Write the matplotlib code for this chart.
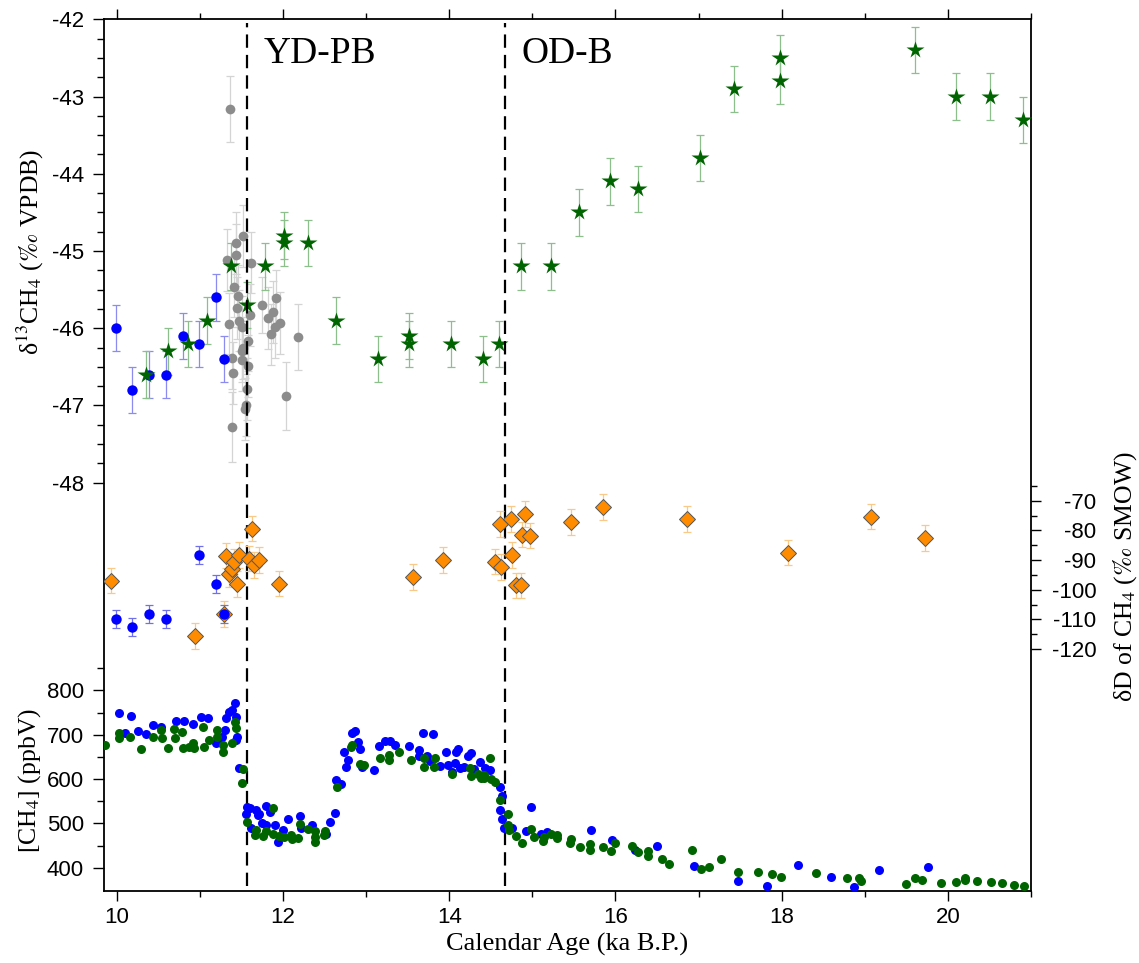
import matplotlib
matplotlib.use('Agg')
import matplotlib.pyplot as plt
import numpy as np

plt.rcParams['axes.unicode_minus'] = False
plt.rcParams['mathtext.fontset'] = 'stix'
plt.rcParams['font.family'] = ['Liberation Sans', 'DejaVu Sans']

# ---------------- data ----------------
# d13C-CH4 (permil VPDB), blue series
d13c_blue_age = [9.99, 10.18, 10.39, 10.59, 10.79, 10.99, 11.19, 11.29]
d13c_blue = [-46.0, -46.8, -46.6, -46.6, -46.1, -46.2, -45.6, -46.4]
d13c_blue_err = [0.3, 0.3, 0.3, 0.3, 0.3, 0.3, 0.3, 0.3]

# d13C-CH4, green stars
d13c_green_age = [10.35, 10.61, 10.86, 11.09, 11.37, 11.56, 11.78, 12.01, 12.01, 12.30,
                  12.64, 13.14, 13.52, 13.52, 14.02, 14.41, 14.60, 14.86, 15.22, 15.56,
                  15.93, 16.27, 17.02, 17.43, 17.98, 17.98, 19.61, 20.10, 20.51, 20.90]
d13c_green = [-46.6, -46.3, -46.2, -45.9, -45.2, -45.7, -45.2, -44.8, -44.9, -44.9,
              -45.9, -46.4, -46.1, -46.2, -46.2, -46.4, -46.2, -45.2, -45.2, -44.5,
              -44.1, -44.2, -43.8, -42.9, -42.5, -42.8, -42.4, -43.0, -43.0, -43.3]
d13c_green_err = [0.3] * 30

# d13C-CH4, gray series
d13c_gray_age = [11.36, 11.52, 11.43, 11.43, 11.33, 11.61, 11.41, 11.46, 11.45, 11.60,
                 11.47, 11.35, 11.50, 11.58, 11.52, 11.51, 11.38, 11.51, 11.58, 11.40,
                 11.56, 11.55, 11.54, 11.39, 11.75, 11.92, 11.82, 11.88, 11.85, 11.90,
                 11.96, 12.18, 12.03]
d13c_gray = [-43.16, -44.81, -44.90, -45.05, -45.12, -45.15, -45.46, -45.58, -45.74, -45.83,
             -45.90, -45.94, -45.98, -46.16, -46.26, -46.30, -46.39, -46.41, -46.49, -46.58,
             -46.79, -46.99, -47.05, -47.28, -45.70, -45.61, -45.87, -45.79, -46.08, -45.98,
             -45.93, -46.11, -46.88]
d13c_gray_err = [0.43, 0.4, 0.4, 0.4, 0.4, 0.4, 0.4, 0.4, 0.4, 0.4,
                 0.4, 0.4, 0.4, 0.4, 0.4, 0.4, 0.4, 0.4, 0.4, 0.4,
                 0.4, 0.4, 0.4, 0.45, 0.36, 0.36, 0.4, 0.4, 0.4, 0.4,
                 0.4, 0.43, 0.44]

# dD-CH4 (permil SMOW), orange diamonds
dD_orange_age = [9.93, 10.94, 11.29, 11.31, 11.35, 11.39, 11.41, 11.47, 11.45, 11.59,
                 11.63, 11.65, 11.71, 11.95, 13.56, 13.92, 14.55, 14.62, 14.61, 14.74,
                 14.76, 14.87, 14.91, 14.97, 14.80, 14.86, 15.46, 15.85, 16.86, 18.08,
                 19.08, 19.72]
dD_orange = [-96.9, -115.6, -108.2, -88.5, -94.8, -93.1, -90.5, -88.2, -98.1, -89.5,
             -79.4, -91.7, -90.0, -97.9, -95.7, -89.9, -90.5, -92.3, -77.9, -76.1,
             -88.2, -81.4, -74.4, -81.7, -98.5, -98.5, -77.1, -72.1, -76.1, -87.5,
             -75.3, -82.6]
dD_orange_err = [4.3] * 32

# dD-CH4, blue dots
dD_blue_age = [9.99, 10.18, 10.39, 10.59, 10.99, 11.19, 11.29]
dD_blue = [-109.9, -112.7, -108.2, -109.9, -88.4, -98.1, -108.2]
dD_blue_err = [3.0, 3.0, 3.0, 3.0, 3.0, 3.0, 3.0]

# [CH4] (ppbV), blue
ch4_blue_age = [10.02, 10.10, 10.17, 10.26, 10.35, 10.44, 10.53, 10.71, 10.81, 10.92,
                11.01, 11.10, 11.19, 11.23, 11.27, 11.30, 11.31, 11.35, 11.39, 11.42,
                11.43, 11.43, 11.45, 11.47, 11.57, 11.60, 11.55, 11.61, 11.68, 11.70,
                11.71, 11.79, 11.75, 11.79, 11.84, 11.90, 11.94, 12.00, 12.06, 12.20,
                12.21, 12.35, 12.52, 12.57, 12.63, 12.64, 12.70, 12.73, 12.78, 12.76,
                12.83, 12.86, 12.90, 12.92, 12.95, 13.09, 13.16, 13.23, 13.29, 13.35,
                13.51, 13.63, 13.63, 13.68, 13.73, 13.77, 13.81, 13.89, 13.96, 13.99,
                14.03, 14.07, 14.08, 14.10, 14.13, 14.18, 14.22, 14.26, 14.30, 14.37,
                14.43, 14.49, 14.61, 14.63, 14.61, 14.64, 14.66, 14.76, 14.92, 14.98,
                15.10, 15.18, 15.70, 15.96, 16.23, 16.50, 16.95, 17.48, 17.82, 18.20,
                18.59, 18.87, 19.17, 19.76]
ch4_blue = [750, 704, 743, 708, 702, 721, 718, 732, 732, 725,
            741, 738, 682, 685, 694, 710, 738, 751, 756, 771,
            739, 689, 694, 625, 537, 534, 521, 490, 531, 520,
            522, 540, 501, 496, 525, 496, 459, 486, 510, 516,
            489, 497, 477, 504, 524, 597, 589, 662, 644, 627,
            704, 708, 683, 669, 628, 621, 674, 685, 685, 676,
            674, 666, 651, 705, 651, 640, 702, 629, 662, 632,
            616, 637, 662, 667, 624, 628, 651, 658, 623, 639,
            625, 621, 582, 561, 531, 509, 490, 489, 482, 538,
            477, 481, 486, 462, 441, 450, 404, 370, 360, 406,
            380, 356, 396, 403]

# [CH4] (ppbV), green
ch4_green_age = [9.86, 10.02, 10.02, 10.16, 10.29, 10.44, 10.54, 10.53, 10.62, 10.69,
                 10.70, 10.78, 10.79, 10.87, 10.92, 10.93, 11.04, 11.05, 11.11, 11.20,
                 11.20, 11.28, 11.28, 11.38, 11.42, 11.43, 11.52, 11.51, 11.57, 11.67,
                 11.66, 11.76, 11.79, 11.88, 11.88, 11.95, 12.01, 12.10, 12.11, 12.18,
                 12.20, 12.30, 12.38, 12.38, 12.39, 12.49, 12.50, 12.65, 12.82, 12.83,
                 12.92, 12.97, 13.17, 13.27, 13.27, 13.40, 13.54, 13.70, 13.70, 13.83,
                 13.82, 14.03, 14.25, 14.26, 14.35, 14.38, 14.42, 14.42, 14.49, 14.50,
                 14.55, 14.61, 14.71, 14.71, 14.72, 14.80, 14.88, 14.98, 15.02, 15.13,
                 15.14, 15.22, 15.30, 15.30, 15.45, 15.46, 15.57, 15.69, 15.69, 15.85,
                 15.94, 15.99, 16.20, 16.27, 16.39, 16.39, 16.56, 16.64, 16.92, 17.03,
                 17.12, 17.27, 17.48, 17.71, 17.88, 17.99, 18.41, 18.78, 18.93, 18.95,
                 19.50, 19.61, 19.69, 19.92, 20.10, 20.20, 20.20, 20.35, 20.52, 20.65,
                 20.80, 20.91]
ch4_green = [678, 704, 693, 694, 668, 694, 692, 711, 671, 714,
             693, 707, 671, 672, 682, 671, 718, 673, 689, 711,
             696, 676, 662, 682, 729, 715, 623, 591, 503, 485,
             475, 471, 482, 534, 477, 471, 469, 475, 464, 468,
             499, 488, 482, 458, 470, 473, 482, 582, 673, 676,
             634, 632, 647, 654, 644, 662, 642, 647, 628, 648,
             628, 612, 624, 608, 612, 603, 603, 610, 647, 601,
             594, 552, 522, 496, 485, 471, 455, 488, 469, 460,
             469, 477, 468, 473, 456, 466, 446, 453, 441, 446,
             437, 455, 450, 435, 439, 426, 421, 408, 440, 398,
             402, 419, 390, 390, 386, 379, 388, 377, 377, 371,
             364, 376, 372, 365, 369, 376, 372, 370, 369, 366,
             361, 359]

# axis ticks and labels
age_major = [10, 12, 14, 16, 18, 20]
age_minor = [11, 13, 15, 17, 19, 21]
d13c_ticks = [-48, -47, -46, -45, -44, -43, -42]
ch4_ticks = [400, 500, 600, 700, 800]
ch4_minor = [450, 550, 650, 750, 850]
dD_ticks = [-120, -110, -100, -90, -80, -70]
dD_minor = [-115, -105, -95, -85, -75, -65]
boundaries = [11.57, 14.67]
boundary_names = ['YD-PB', 'OD-B']

# ---------------- figure ----------------
W, H = 1139, 963
fig = plt.figure(figsize=(W / 100, H / 100), dpi=100)
L, R, T, B = 103.5, 1031, 19.3, 890.5
ax1 = fig.add_axes([L / W, 1 - B / H, (R - L) / W, (B - T) / H])
ax2 = ax1.twinx()
ax3 = ax1.twinx()
for a in (ax2, ax3):
    a.patch.set_visible(False)
    for s in a.spines.values():
        s.set_visible(False)

ax1.set_xlim(9.839, 21.0)
ax1.set_ylim(-53.28, -42.0)
ax2.set_ylim(348.9, 2312.8)
ax3.set_ylim(-201.5, 92.5)

for s in ax1.spines.values():
    s.set_linewidth(1.3)

serif = ['Liberation Serif', 'DejaVu Serif']
tickfs = 16

# x axis
ax1.set_xticks(age_major)
ax1.set_xticks(age_minor, minor=True)
ax1.set_xticklabels([str(v) for v in age_major], fontsize=tickfs)
ax1.tick_params(axis='x', which='both', direction='out', top=True, bottom=True,
                labeltop=False, width=1)
ax1.tick_params(axis='x', which='major', length=7, pad=5)
ax1.tick_params(axis='x', which='minor', length=4)

# d13C axis (left, upper)
ax1.set_yticks(d13c_ticks)
ax1.set_yticks(np.arange(-48, -41.9, 0.25), minor=True)
ax1.set_yticklabels([str(v) for v in d13c_ticks], fontsize=tickfs)
ax1.tick_params(axis='y', which='both', direction='out', left=True, right=False, width=1)
ax1.tick_params(axis='y', which='major', length=8, pad=6)
ax1.tick_params(axis='y', which='minor', length=5)

# CH4 axis (left, lower)
ax2.yaxis.tick_left()
ax2.set_yticks(ch4_ticks)
ax2.set_yticks(ch4_minor, minor=True)
ax2.set_yticklabels([str(v) for v in ch4_ticks], fontsize=tickfs)
ax2.tick_params(axis='y', which='both', direction='out', width=1)
ax2.tick_params(axis='y', which='major', length=8, pad=6)
ax2.tick_params(axis='y', which='minor', length=5)

# dD axis (right)
ax3.yaxis.tick_right()
ax3.set_yticks(dD_ticks)
ax3.set_yticks(dD_minor, minor=True)
ax3.set_yticklabels([str(v) for v in dD_ticks], fontsize=tickfs, ha='right')
ax3.tick_params(axis='y', which='both', direction='out', width=1)
ax3.tick_params(axis='y', which='major', length=7, pad=40)
ax3.tick_params(axis='y', which='minor', length=4)

# ---------------- data drawing ----------------
def ebar(ax, x, y, e, col):
    ax.errorbar(x, y, yerr=e, fmt='none', ecolor=col, elinewidth=0.9,
                capsize=3.2, capthick=0.9, zorder=2)

ebar(ax1, d13c_gray_age, d13c_gray, d13c_gray_err, '#d4d4d4')
ax1.plot(d13c_gray_age, d13c_gray, 'o', color='#8c8c8c', ms=7, mec='none', zorder=3)
ebar(ax1, d13c_blue_age, d13c_blue, d13c_blue_err, '#8c8cf0')
ax1.plot(d13c_blue_age, d13c_blue, 'o', color='#0000ff', ms=7.5, mec='none', zorder=4)
ebar(ax1, d13c_green_age, d13c_green, d13c_green_err, '#8cbf8c')
ax1.plot(d13c_green_age, d13c_green, '*', color='#006400', ms=13, mec='none', zorder=5)

ebar(ax3, dD_orange_age, dD_orange, dD_orange_err, '#f9c98a')
ax3.plot(dD_orange_age, dD_orange, 'D', color='#ff8c00', ms=8, mec='#555555', mew=0.7, zorder=4)
ebar(ax3, dD_blue_age, dD_blue, dD_blue_err, '#7070e8')
ax3.plot(dD_blue_age, dD_blue, 'o', color='#0000ff', ms=7.5, mec='none', zorder=5)

ax2.plot(ch4_blue_age, ch4_blue, 'o', color='#0000ff', ms=6.5, mec='none', zorder=3)
ax2.plot(ch4_green_age, ch4_green, 'o', color='#006400', ms=6.5, mec='none', zorder=4)

# boundaries
for xb, name in zip(boundaries, boundary_names):
    ax1.axvline(xb, ymin=0.005, ymax=0.996, color='black', lw=1.6,
                dashes=(6, 3.2), zorder=6)
    ax1.text(xb + 0.2, -42.45, name, fontsize=27, family=serif, ha='left', va='center')

# axis labels
fig.text(567 / W, 1 - 944 / H, 'Calendar Age (ka B.P.)', fontsize=19, family=serif,
         ha='center', va='center')
fig.text(30 / W, 1 - 252 / H, 'δ$^{13}$CH$_4$ ($\\it{‰}$ VPDB)', fontsize=18.5,
         family=serif, ha='center', va='center', rotation=90)
fig.text(30 / W, 1 - 780 / H, '[CH$_4$] (ppbV)', fontsize=18.5, family=serif,
         ha='center', va='center', rotation=90)
fig.text(1125 / W, 1 - 577 / H, 'δD of CH$_4$ ($\\it{‰}$ SMOW)', fontsize=18.5,
         family=serif, ha='center', va='center', rotation=90)

fig.savefig('out.png', dpi=100)
